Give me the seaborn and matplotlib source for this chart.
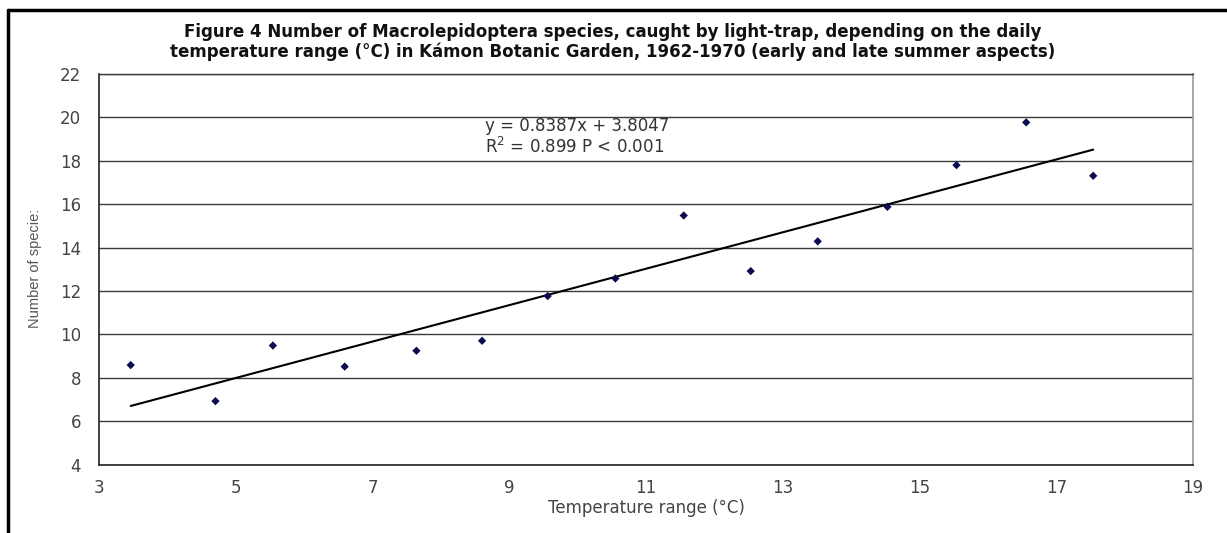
import matplotlib

matplotlib.use("Agg")

import numpy as np
import pandas as pd
import seaborn as sns
from matplotlib import pyplot as plt
from matplotlib.lines import Line2D

# values
temp_range = [3.46, 4.70, 5.54, 6.59, 7.64, 8.60, 9.56, 10.55,
              11.55, 12.53, 13.51, 14.53, 15.54, 16.56, 17.54]
species = [8.59, 6.93, 9.49, 8.52, 9.25, 9.71, 11.77, 12.58,
           15.48, 12.92, 14.29, 15.88, 17.80, 19.77, 17.31]
slope = 0.8387
intercept = 3.8047
x_ticks = [3, 5, 7, 9, 11, 13, 15, 17, 19]
y_ticks = [4, 6, 8, 10, 12, 14, 16, 18, 20, 22]

title = ("Figure 4 Number of Macrolepidoptera species, caught by light-trap, depending on the daily\n"
         "temperature range (°C) in Kámon Botanic Garden, 1962-1970 (early and late summer aspects)")

points = pd.DataFrame({"temp": temp_range, "species": species})
x_fit = np.array([points["temp"].min(), points["temp"].max()])
trend = pd.DataFrame({"temp": x_fit, "species": slope * x_fit + intercept})

sns.set_theme(style="white")
plt.rcParams["font.family"] = ["DejaVu Sans"]

fig = plt.figure(figsize=(12.27, 5.33), dpi=100)
ax = fig.add_axes([0.0809, 0.1281, 0.8914, 0.7331])

ax.set_axisbelow(True)
ax.grid(axis="y", color="#3a3a3a", linewidth=1.0)
ax.grid(axis="x", visible=False)

sns.lineplot(data=trend, x="temp", y="species", ax=ax, color="black", linewidth=1.5)
sns.scatterplot(data=points, x="temp", y="species", ax=ax, marker="D", s=18,
                color="#0b0b4f", edgecolor="none", zorder=3)

ax.set_xlim(3, 19)
ax.set_ylim(4, 22)
ax.set_xticks(x_ticks)
ax.set_yticks(y_ticks)
ax.tick_params(axis="both", labelsize=12, labelcolor="#444444", colors="#222222")
ax.tick_params(axis="x", length=4, width=1, pad=8, direction="inout")
ax.tick_params(axis="y", length=6, width=1, pad=7, direction="out")
for lab in ax.get_xticklabels() + ax.get_yticklabels():
    lab.set_color("#444444")

ax.spines["left"].set_color("#222222")
ax.spines["bottom"].set_color("#222222")
ax.spines["right"].set_color("#9a9a9a")
ax.spines["top"].set_color("#3a3a3a")
for side in ["left", "bottom", "right"]:
    ax.spines[side].set_linewidth(1.2)
ax.spines["top"].set_linewidth(1.0)

ax.set_xlabel("Temperature range (°C)", fontsize=12, color="#444444", labelpad=2)
ax.set_ylabel("")

fig.text(0.0285, 0.497, "Number of specie:", rotation=90, ha="center", va="center",
         fontsize=10.5, color="#555555",
         family=["Liberation Sans Narrow", "Liberation Sans", "DejaVu Sans"])

ax.text(0.3525, 0.89, "y = 0.8387x + 3.8047\nR$^2$ = 0.899 P < 0.001",
        transform=ax.transAxes, ha="left", va="top", fontsize=12,
        color="#333333", linespacing=1.1)

fig.text(0.499, 0.922, title, ha="center", va="center", fontsize=12,
         fontweight="bold", color="#111111", linespacing=1.1)

# outer frame edges (top and left) as in the cropped figure
fig.add_artist(Line2D([0.0065, 1.0], [0.981, 0.981], color="black", linewidth=2.5))
fig.add_artist(Line2D([0.0065, 0.0065], [0.0, 0.981], color="black", linewidth=2.5))

fig.savefig("out.png", dpi=100)
